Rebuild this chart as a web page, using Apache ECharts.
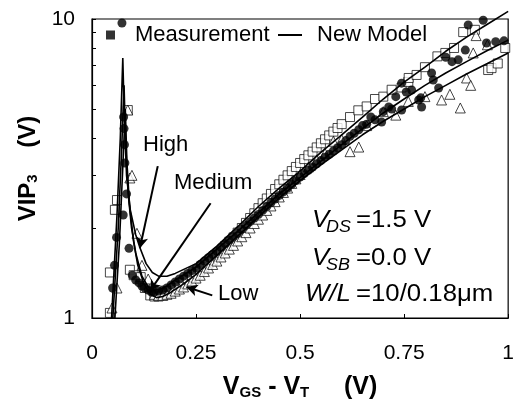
<!DOCTYPE html>
<html>
<head>
<meta charset="utf-8">
<script src="https://cdn.jsdelivr.net/npm/echarts@6/dist/echarts.min.js"></script>
<style>
html,body{margin:0;padding:0;background:#fff;}
#chart{width:517px;height:410px;}
</style>
</head>
<body>
<div id="chart"></div>
<script>
// ---- data (x = VGS - VT in V, y = VIP3 in V) ----
var xTicks = [0, 0.25, 0.5, 0.75, 1];
var yMinorTicks = [1, 2, 3, 4, 5, 6, 7, 8, 9, 10];

var modelHigh = [
  [0.047,1.0],[0.060,2.2],[0.068,4.0],[0.074,7.4],[0.078,4.5],[0.083,3.0],[0.092,2.3],
  [0.105,1.9],[0.115,1.72],[0.13,1.52],[0.145,1.42],[0.16,1.38],[0.18,1.38],[0.2,1.41],
  [0.25,1.52],[0.3,1.74],[0.35,2.02],[0.4,2.36],[0.45,2.72],[0.5,3.1],[0.55,3.58],
  [0.6,4.1],[0.65,4.7],[0.7,5.4],[0.75,6.15],[0.8,6.9],[0.85,7.8],[0.9,8.7],[0.95,9.6],[1.0,10.6]
];
var modelMedium = [
  [0.05,1.0],[0.063,2.0],[0.071,3.6],[0.077,6.0],[0.081,3.8],[0.087,2.6],[0.095,2.0],
  [0.105,1.65],[0.12,1.38],[0.135,1.27],[0.15,1.24],[0.165,1.25],[0.18,1.28],[0.2,1.34],
  [0.25,1.48],[0.3,1.7],[0.35,1.95],[0.4,2.25],[0.45,2.6],[0.5,2.95],[0.55,3.35],
  [0.6,3.8],[0.65,4.3],[0.7,4.85],[0.75,5.4],[0.8,6.0],[0.85,6.6],[0.9,7.2],[0.95,7.85],[1.0,8.5]
];
var modelLow = [
  [0.055,1.0],[0.066,1.8],[0.074,3.2],[0.08,5.0],[0.084,3.3],[0.09,2.4],[0.1,1.8],
  [0.11,1.5],[0.125,1.3],[0.14,1.2],[0.155,1.17],[0.17,1.18],[0.19,1.22],[0.22,1.3],
  [0.25,1.4],[0.3,1.62],[0.35,1.88],[0.4,2.18],[0.45,2.52],[0.5,2.88],[0.55,3.25],
  [0.6,3.65],[0.65,4.1],[0.7,4.55],[0.75,5.0],[0.8,5.5],[0.85,6.0],[0.9,6.55],[0.95,7.1],[1.0,7.7]
];

var measCircles = [
  [0.072,9.7],[0.0495,1.26],[0.054,1.5],[0.059,1.86],[0.075,2.21],[0.076,4.7],[0.077,4.3],[0.078,3.8],
  [0.079,3.3],[0.083,2.6],[0.089,1.71],[0.097,1.39],[0.105,1.34],[0.113,1.31],[0.12,1.28],
  [0.127,1.26],[0.135,1.24],[0.143,1.22],
  [0.15,1.22],[0.16,1.23],[0.17,1.24],[0.18,1.26],[0.19,1.29],[0.2,1.32],[0.21,1.35],
  [0.22,1.38],[0.23,1.41],[0.24,1.44],[0.25,1.47],[0.26,1.51],[0.27,1.55],[0.28,1.59],
  [0.29,1.63],[0.3,1.67],[0.31,1.72],[0.32,1.77],[0.33,1.82],[0.34,1.87],[0.35,1.92],
  [0.36,1.98],[0.37,2.04],[0.38,2.1],[0.39,2.16],[0.4,2.22],[0.41,2.29],[0.42,2.36],
  [0.43,2.43],[0.44,2.5],[0.45,2.57],[0.46,2.64],[0.47,2.72],[0.48,2.8],[0.49,2.88],
  [0.5,2.96],[0.51,3.04],[0.52,3.12],[0.53,3.2],[0.54,3.28],[0.55,3.36],[0.56,3.45],
  [0.57,3.53],[0.58,3.62],[0.59,3.71],[0.6,3.8],[0.61,3.92],[0.62,4.05],[0.63,4.15],
  [0.641,4.26],[0.65,4.4],[0.66,4.45],[0.67,4.7],[0.68,4.6],[0.696,4.52],[0.7,4.9],
  [0.713,5.08],[0.72,5.0],[0.73,5.5],[0.744,4.96],[0.744,6.1],[0.755,5.7],[0.768,5.79],
  [0.785,5.36],[0.79,5.45],[0.792,5.08],[0.816,6.6],[0.82,6.25],[0.833,5.88],[0.85,7.45],
  [0.865,7.2],[0.88,7.3],[0.897,7.87],[0.904,9.55],[0.94,9.9],[0.948,8.31],[0.97,8.4],[0.99,8.45]
];
var measSquares = [
  [0.043,1.04],[0.043,1.42],[0.055,2.3],[0.06,2.48],[0.086,4.96],[0.091,1.45],[0.1,1.39],
  [0.117,1.37],[0.127,1.26],[0.14,1.19],[0.15,1.18],[0.16,1.18],[0.17,1.19],[0.18,1.21],
  [0.19,1.23],[0.2,1.26],[0.21,1.28],[0.22,1.31],[0.23,1.34],[0.24,1.37],[0.25,1.4],
  [0.26,1.44],[0.27,1.48],[0.28,1.52],[0.29,1.56],[0.3,1.62],[0.31,1.68],[0.32,1.74],
  [0.33,1.8],[0.34,1.86],[0.35,1.93],[0.36,2.0],[0.37,2.08],[0.38,2.16],[0.39,2.24],
  [0.4,2.33],[0.41,2.42],[0.42,2.51],[0.43,2.6],[0.44,2.7],[0.45,2.8],[0.46,2.9],
  [0.47,3.0],[0.48,3.1],[0.49,3.2],[0.5,3.3],[0.51,3.4],[0.52,3.5],[0.53,3.6],
  [0.54,3.72],[0.55,3.84],[0.56,3.96],[0.57,4.08],[0.58,4.2],[0.59,4.32],[0.6,4.45],
  [0.62,4.7],[0.64,4.95],[0.66,5.1],[0.68,5.4],[0.7,5.5],[0.72,5.8],[0.744,5.9],
  [0.76,6.16],[0.761,6.35],[0.78,6.5],[0.8,6.9],[0.83,7.5],[0.849,7.7],[0.87,8.0],
  [0.892,9.04],[0.92,9.2],[0.952,6.75],[0.96,6.85],[0.975,7.1],[0.993,8.0]
];
var measTriangles = [
  [0.048,1.08],[0.06,1.26],[0.086,4.96],[0.091,2.94],[0.096,3.0],[0.108,1.92],[0.12,1.5],
  [0.135,1.35],[0.15,1.2],[0.16,1.19],[0.17,1.19],[0.18,1.2],[0.19,1.21],[0.2,1.23],
  [0.21,1.25],[0.22,1.27],[0.23,1.3],[0.24,1.33],[0.25,1.36],[0.26,1.39],[0.27,1.43],
  [0.28,1.47],[0.29,1.51],[0.3,1.55],[0.31,1.6],[0.32,1.65],[0.33,1.7],[0.34,1.75],
  [0.35,1.81],[0.36,1.87],[0.37,1.93],[0.38,2.0],[0.39,2.07],[0.4,2.14],[0.41,2.21],
  [0.42,2.29],[0.43,2.37],[0.44,2.45],[0.45,2.54],[0.46,2.63],[0.47,2.72],[0.48,2.82],
  [0.49,2.92],[0.5,3.02],[0.52,3.2],[0.54,3.38],[0.56,3.55],[0.58,3.9],[0.6,3.95],
  [0.62,3.6],[0.641,3.73],[0.66,4.4],[0.7,4.9],[0.73,4.77],[0.76,5.3],[0.8,5.5],
  [0.84,5.36],[0.86,5.6],[0.885,5.04],[0.9,6.35],[0.91,6.0],[0.916,7.7],[0.923,8.8],[0.95,8.2]
];

// annotation arrows: [from, to] in data coordinates
var arrowHigh = [[0.158,3.22],[0.115,1.71]];
var arrowMedium = [[0.285,2.42],[0.139,1.23]];
var arrowLow = [[0.289,1.19],[0.227,1.27]];

var FONT = "'Liberation Sans', Arial, Helvetica, sans-serif";

var chart = echarts.init(document.getElementById('chart'), null, {renderer:'canvas'});

function txt(text, x, y, size, italic, sx) {
  return {
    type:'text', x:x, y:y, z:100, scaleX:sx || 1,
    style:{
      text:text, fill:'#000',
      font:(italic?'italic ':'') + size + 'px ' + FONT,
      verticalAlign:'middle', align:'left'
    }
  };
}

var option = {
  backgroundColor:'#fff',
  animation:false,
  grid:{left:92, right:7, top:19, bottom:92, show:true, borderColor:'#000', borderWidth:1.2, backgroundColor:'transparent'},
  legend:[
    {data:[{name:'Measurement', icon:'rect', itemStyle:{color:'#000', borderWidth:0}}],
     left:106, top:24, padding:0, itemWidth:9, itemHeight:9, selectedMode:false,
     textStyle:{fontFamily:FONT, fontSize:22, color:'#000', padding:[0,0,0,15]}},
    {data:[{name:'New Model', icon:'path://M0,0H24V2H0Z', itemStyle:{color:'#000', borderWidth:0}}],
     left:278, top:24, padding:0, itemWidth:24, itemHeight:9, selectedMode:false,
     textStyle:{fontFamily:FONT, fontSize:22, color:'#000', padding:[0,0,0,10]}}
  ],
  xAxis:{
    type:'value', min:0, max:1, interval:0.25,
    axisLine:{show:true, lineStyle:{color:'#000', width:1.2}},
    axisTick:{show:true, inside:true, length:4, lineStyle:{color:'#000'}},
    splitLine:{show:false},
    axisLabel:{fontFamily:FONT, fontSize:21, color:'#000', margin:25,
      formatter:function(v){ return String(+v.toFixed(2)); }},
    name:'{b|V}{s|GS}{b| - V}{s|T}{b|     (V)}',
    nameLocation:'middle', nameGap:57,
    nameTextStyle:{rich:{
      b:{fontFamily:FONT, fontSize:25, fontWeight:'bold', color:'#000'},
      s:{fontFamily:FONT, fontSize:15, fontWeight:'bold', color:'#000', verticalAlign:'bottom'}
    }}
  },
  yAxis:{
    type:'log', logBase:10, min:1, max:10,
    axisLine:{show:true, lineStyle:{color:'#000', width:1.2}},
    axisTick:{show:true, inside:true, length:4, lineStyle:{color:'#000'}, customValues:yMinorTicks},
    splitLine:{show:false},
    minorTick:{show:false},
    axisLabel:{fontFamily:FONT, fontSize:21, color:'#000', margin:17},
    name:'{b|VIP}{s|3}{b|    (V)}',
    nameLocation:'middle', nameGap:28, nameRotate:90,
    nameTextStyle:{rich:{
      b:{fontFamily:FONT, fontSize:24, fontWeight:'bold', color:'#000'},
      s:{fontFamily:FONT, fontSize:15, fontWeight:'bold', color:'#000', verticalAlign:'bottom'}
    }}
  },
  series:[
    {name:'Measurement', type:'scatter', data:measSquares, symbol:'rect', symbolSize:9,
     itemStyle:{color:'#fff', borderColor:'#000', borderWidth:0.9}, z:2},
    {name:'Measurement', type:'scatter', data:measTriangles, symbol:'triangle', symbolSize:10,
     itemStyle:{color:'#fff', borderColor:'#000', borderWidth:0.9}, z:2},
    {name:'Measurement', type:'scatter', data:measCircles, symbol:'circle', symbolSize:9,
     itemStyle:{color:'#000'}, z:3},
    {name:'New Model', type:'line', data:modelHigh, showSymbol:false, symbol:'none', clip:false,
     lineStyle:{color:'#000', width:1.6}, z:4,
     markLine:{silent:true, symbol:['none','arrow'], symbolSize:[9,11],
       lineStyle:{color:'#000', width:2, type:'solid'}, label:{show:false},
       data:[
         [{coord:arrowHigh[0]},{coord:arrowHigh[1]}],
         [{coord:arrowMedium[0]},{coord:arrowMedium[1]}],
         [{coord:arrowLow[0]},{coord:arrowLow[1]}]
       ]}},
    {name:'New Model', type:'line', data:modelMedium, showSymbol:false, symbol:'none', clip:false,
     lineStyle:{color:'#000', width:1.6}, z:4},
    {name:'New Model', type:'line', data:modelLow, showSymbol:false, symbol:'none', clip:false,
     lineStyle:{color:'#000', width:1.6}, z:4}
  ],
  graphic:[
    txt('High', 143, 145, 22),
    txt('Medium', 174, 183, 22),
    txt('Low', 218, 294, 22),
    txt('V', 312, 221, 23, true, 1.12), txt('DS', 326, 228, 16, true, 1.12), txt('=1.5 V', 356, 221, 23, false, 1.12),
    txt('V', 312, 259, 23, true, 1.12), txt('SB', 326, 266, 16, true, 1.12), txt('=0.0 V', 356, 259, 23, false, 1.12),
    txt('W/L', 305, 295, 23, true, 1.12), txt('=10/0.18\u03bcm', 356, 295, 23, false, 1.12)
  ]
};
chart.setOption(option);
</script>
</body>
</html>
